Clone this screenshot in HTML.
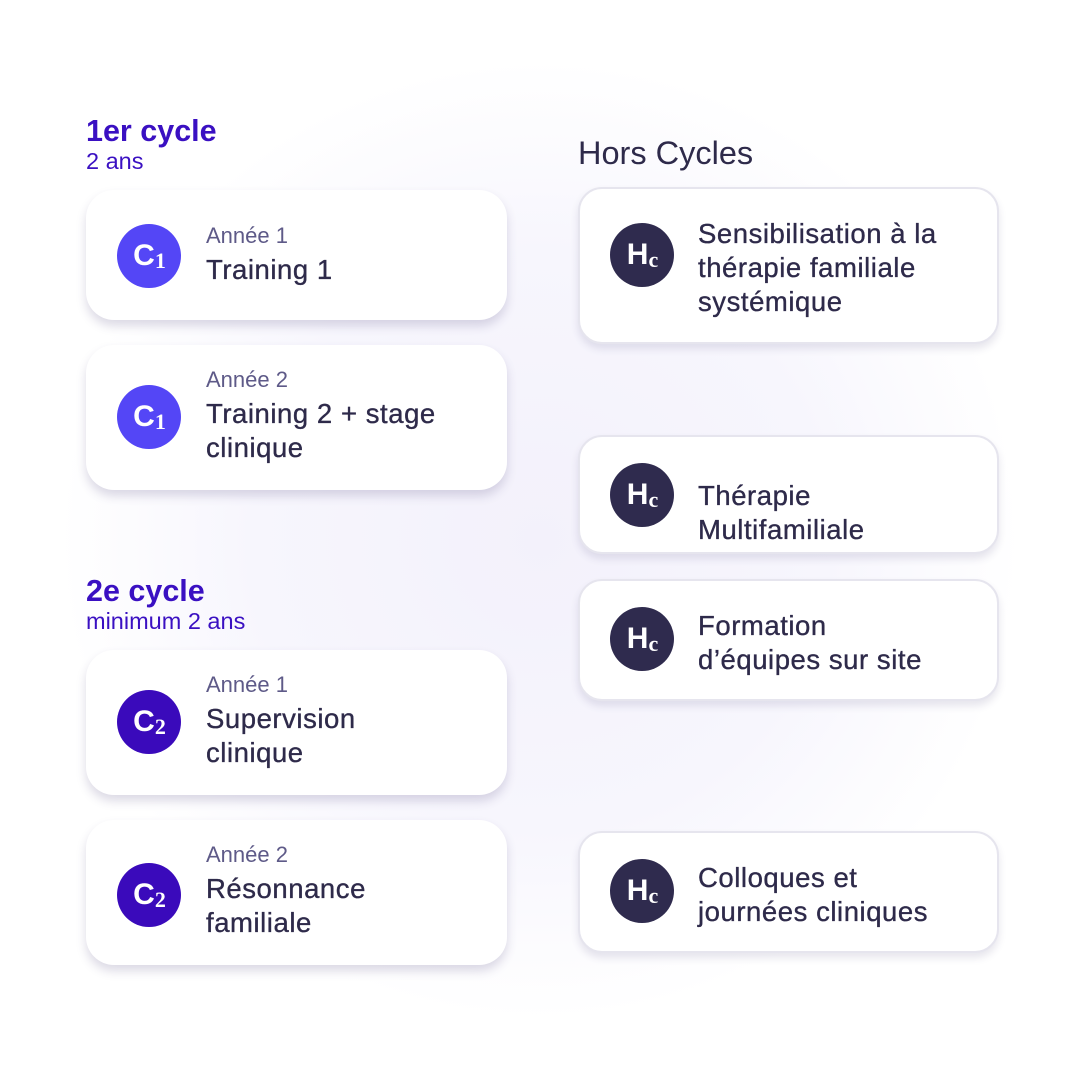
<!DOCTYPE html>
<html><head><meta charset="utf-8"><style>
*{margin:0;padding:0;box-sizing:border-box}
body{width:1074px;height:1074px;position:relative;overflow:hidden;font-family:"Liberation Sans",sans-serif;
background:radial-gradient(ellipse 480px 480px at 540px 540px,#f3f1fb 0%,#f7f6fd 60%,#ffffff 100%);}
.h{position:absolute;color:#3a10c2}
.h b{font-size:30.5px;font-weight:bold;display:block;line-height:32px}
.h span{font-size:23.5px;display:block;line-height:28px}
.card{position:absolute;background:#fff;border-radius:28px;box-shadow:0 6px 10px rgba(60,50,110,.18)}
.r{border-radius:24px;border:2px solid #e6e5ee;box-shadow:0 5px 8px rgba(60,50,110,.12)}
.ic{position:absolute;width:64px;height:64px;border-radius:50%;color:#fff;font-weight:bold;font-size:30px;
display:flex;align-items:center;justify-content:center;letter-spacing:-1px}
.ic small{font-family:"Liberation Serif",serif;font-size:22px;font-weight:bold;margin-top:10px;margin-left:1px}
.t{position:absolute;color:#2e2a4a;font-size:27.5px;line-height:34px;-webkit-text-stroke:0.35px #2e2a4a;white-space:nowrap;letter-spacing:0.55px}
.t i{font-style:normal;display:block;font-size:22px;color:#5e5a88;line-height:26px;margin-bottom:4px;-webkit-text-stroke:0;letter-spacing:0}
</style></head><body>
<div class="h" style="left:86px;top:115px"><b>1er cycle</b><span>2 ans</span></div>
<div class="h" style="left:86px;top:575px"><b>2e cycle</b><span>minimum 2 ans</span></div>
<div style="position:absolute;left:578px;top:135px;font-size:32.5px;color:#2e2a4a">Hors Cycles</div>

<div class="card" style="left:86px;top:190px;width:421px;height:130px">
<div class="ic" style="left:31px;top:34px;background:#5446f6">C<small>1</small></div>
<div class="t" style="left:120px;top:33px"><i>Année 1</i>Training 1</div></div>
<div class="card" style="left:86px;top:345px;width:421px;height:145px">
<div class="ic" style="left:31px;top:40px;background:#5446f6">C<small>1</small></div>
<div class="t" style="left:120px;top:22px"><i>Année 2</i>Training 2 + stage<br>clinique</div></div>
<div class="card" style="left:86px;top:650px;width:421px;height:145px">
<div class="ic" style="left:31px;top:40px;background:#3a0abb">C<small>2</small></div>
<div class="t" style="left:120px;top:22px"><i>Année 1</i>Supervision<br>clinique</div></div>
<div class="card" style="left:86px;top:820px;width:421px;height:145px">
<div class="ic" style="left:31px;top:43px;background:#3a0abb">C<small>2</small></div>
<div class="t" style="left:120px;top:22px"><i>Année 2</i>Résonnance<br>familiale</div></div>

<div class="card r" style="left:578px;top:187px;width:421px;height:157px">
<div class="ic" style="left:30px;top:34px;background:#2f2b4e">H<small>c</small></div>
<div class="t" style="left:118px;top:28px">Sensibilisation à la<br>thérapie familiale<br>systémique</div></div>
<div class="card r" style="left:578px;top:435px;width:421px;height:119px">
<div class="ic" style="left:30px;top:26px;background:#2f2b4e">H<small>c</small></div>
<div class="t" style="left:118px;top:42px">Thérapie<br>Multifamiliale</div></div>
<div class="card r" style="left:578px;top:579px;width:421px;height:122px">
<div class="ic" style="left:30px;top:26px;background:#2f2b4e">H<small>c</small></div>
<div class="t" style="left:118px;top:28px">Formation<br>d’équipes sur site</div></div>
<div class="card r" style="left:578px;top:831px;width:421px;height:122px">
<div class="ic" style="left:30px;top:26px;background:#2f2b4e">H<small>c</small></div>
<div class="t" style="left:118px;top:28px">Colloques et<br>journées cliniques</div></div>
</body></html>
